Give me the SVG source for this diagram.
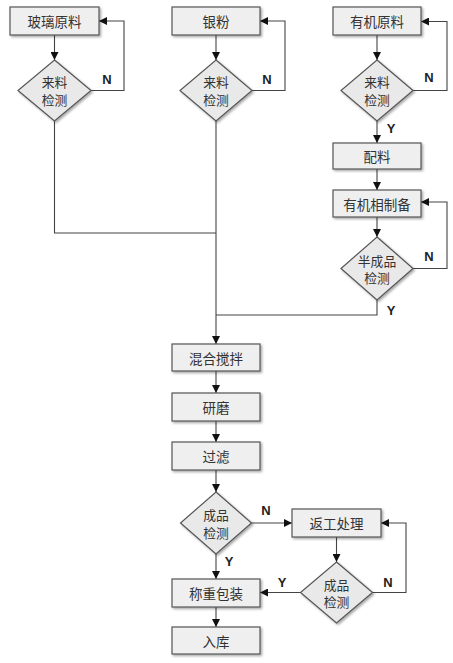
<svg xmlns="http://www.w3.org/2000/svg" width="453" height="663" viewBox="0 0 453 663">
<defs>
<style>
.box{fill:#efefef;stroke:#555;stroke-width:1.2;filter:url(#sh)}
.dia{fill:#e9e9e9;stroke:#555;stroke-width:1.2;filter:url(#sh)}
.t{font-family:"Noto Sans CJK SC","Liberation Sans",sans-serif;font-size:13.5px;fill:#333;text-anchor:middle;dominant-baseline:central}
.d{font-size:12.8px}
.lb{font-family:"Liberation Sans",Arial,sans-serif;font-size:13px;font-weight:bold;fill:#222;text-anchor:middle;dominant-baseline:central}
.c{fill:none;stroke:#444;stroke-width:1.1}
.a{marker-end:url(#ah)}
</style>
<filter id="sh" x="-10%" y="-10%" width="130%" height="140%">
<feDropShadow dx="1.5" dy="1.5" stdDeviation="1" flood-color="#000" flood-opacity="0.35"/>
</filter>
<marker id="ah" markerUnits="userSpaceOnUse" markerWidth="9" markerHeight="8" refX="8" refY="4" orient="auto">
<path d="M0,0 L8,4 L0,8 Z" fill="#111"/>
</marker>
</defs>
<g id="connectors">
<path class="c a" d="M54.5,35 V60"/>
<path class="c a" d="M91,90.5 H124 V21 H99"/>
<path class="c" d="M54.5,121 V233 H216"/>
<path class="c a" d="M216,35 V60"/>
<path class="c a" d="M252,90.5 H285 V21 H260"/>
<path class="c a" d="M216,121 V344"/>
<path class="c a" d="M377,35 V60"/>
<path class="c a" d="M413,90.5 H447 V21.5 H421"/>
<path class="c a" d="M377,121 V143"/>
<path class="c a" d="M377,169 V190"/>
<path class="c a" d="M377,217 V237"/>
<path class="c a" d="M413,268.5 H447 V202 H421"/>
<path class="c" d="M377,300 V315 H216"/>
<path class="c a" d="M216,371 V393"/>
<path class="c a" d="M216,421 V442"/>
<path class="c a" d="M216,470 V492"/>
<path class="c a" d="M251.5,523 H292"/>
<path class="c a" d="M216,554 V579"/>
<path class="c a" d="M336.5,537 V562"/>
<path class="c a" d="M372.5,592.5 H406 V523 H381"/>
<path class="c a" d="M300.5,592.5 H260"/>
<path class="c a" d="M216,607 V627"/>
<text class="lb" x="107" y="79">N</text>
<text class="lb" x="267" y="79">N</text>
<text class="lb" x="429" y="77">N</text>
<text class="lb" x="391" y="128">Y</text>
<text class="lb" x="429" y="256">N</text>
<text class="lb" x="391" y="310">Y</text>
<text class="lb" x="266" y="510">N</text>
<text class="lb" x="229" y="561">Y</text>
<text class="lb" x="282" y="582">Y</text>
<text class="lb" x="388" y="582">N</text>
</g>
<g id="n1"><rect class="box" x="10" y="7" width="89" height="28"/><text class="t" x="54.5" y="21">玻璃原料</text></g>
<g id="n2"><path class="dia" d="M54.5,60 L91,90.5 L54.5,121 L18,90.5 Z"/><text class="t d" x="54.5" y="81.5">来料<tspan x="54.5" dy="17">检测</tspan></text></g>
<g id="n3"><rect class="box" x="172" y="7" width="88" height="28"/><text class="t" x="216" y="21">银粉</text></g>
<g id="n4"><path class="dia" d="M216,60 L252,90.5 L216,121 L180,90.5 Z"/><text class="t d" x="216" y="81.5">来料<tspan x="216" dy="17">检测</tspan></text></g>
<g id="n5"><rect class="box" x="333" y="7" width="88" height="28"/><text class="t" x="377" y="21">有机原料</text></g>
<g id="n6"><path class="dia" d="M377,60 L413,90.5 L377,121 L341,90.5 Z"/><text class="t d" x="377" y="81.5">来料<tspan x="377" dy="17">检测</tspan></text></g>
<g id="n7"><rect class="box" x="333" y="143" width="88" height="26"/><text class="t" x="377" y="156">配料</text></g>
<g id="n8"><rect class="box" x="333" y="190" width="88" height="27"/><text class="t" x="377" y="203.5">有机相制备</text></g>
<g id="n9"><path class="dia" d="M377,237 L413,268.5 L377,300 L341,268.5 Z"/><text class="t d" x="377" y="260">半成品<tspan x="377" dy="17">检测</tspan></text></g>
<g id="n10"><rect class="box" x="172" y="344" width="88" height="27"/><text class="t" x="216" y="357.5">混合搅拌</text></g>
<g id="n11"><rect class="box" x="172" y="393" width="88" height="28"/><text class="t" x="216" y="407">研磨</text></g>
<g id="n12"><rect class="box" x="172" y="442" width="88" height="28"/><text class="t" x="216" y="456">过滤</text></g>
<g id="n13"><path class="dia" d="M216,492 L251.5,523 L216,554 L180.5,523 Z"/><text class="t d" x="216" y="514.5">成品<tspan x="216" dy="17">检测</tspan></text></g>
<g id="n14"><rect class="box" x="292" y="509" width="89" height="28"/><text class="t" x="336.5" y="523">返工处理</text></g>
<g id="n15"><rect class="box" x="172" y="579" width="88" height="28"/><text class="t" x="216" y="593">称重包装</text></g>
<g id="n16"><path class="dia" d="M336.5,562 L372.5,592.5 L336.5,623 L300.5,592.5 Z"/><text class="t d" x="336.5" y="584">成品<tspan x="336.5" dy="17">检测</tspan></text></g>
<g id="n17"><rect class="box" x="172" y="627" width="88" height="27"/><text class="t" x="216" y="640.5">入库</text></g>
</svg>
